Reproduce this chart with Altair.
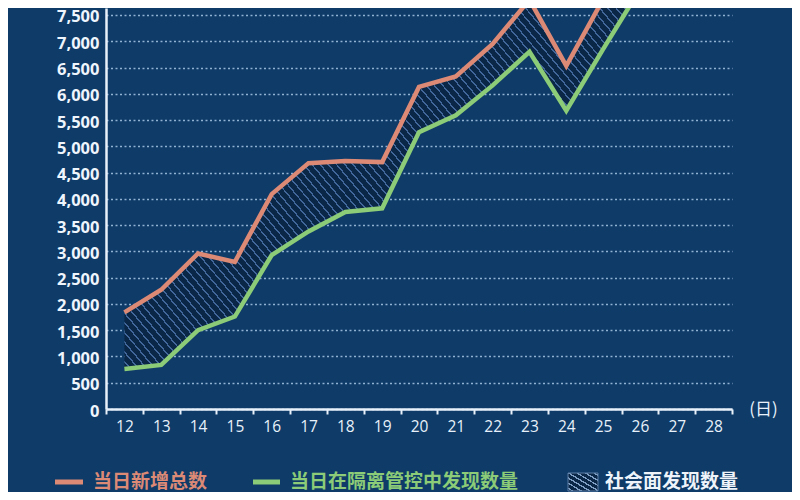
import altair as alt
import pandas as pd

# ---- data ----
days = list(range(12, 29))                      # x tick labels (日)
data_days = list(range(12, 27))                 # days with data
total_new = [1840, 2270, 2960, 2800, 4090, 4680, 4720, 4700, 6130, 6330,
             6950, 7790, 6530, 7800, 8900]      # 当日新增总数
in_quarantine = [760, 840, 1500, 1760, 2930, 3380, 3750, 3820, 5270, 5590,
                 6160, 6800, 5680, 6850, 7990]  # 当日在隔离管控中发现数量
series_names = ["当日新增总数", "当日在隔离管控中发现数量", "社会面发现数量"]
y_ticks = list(range(0, 7501, 500))
x_ticks = [d - 0.5 for d in days] + [days[-1] + 0.5]

df = pd.DataFrame({"day": data_days, "total": total_new, "iso": in_quarantine})

# ---- styles ----
BG = "#0e3b68"
ORANGE = "#dc8a76"
GREEN = "#8ccb77"
AXIS = "#e8f1fa"
W, H = 626, 401
BAND = W / (len(days))


def stripe_gradient(n, base, line, frac, x1=0, y1=1, x2=1, y2=0):
    """Linear gradient with n thin stripes; both ends are the base colour."""
    stops = []
    for i in range(n):
        a = i / n
        s = (i + 0.4) / n
        e = (i + 0.4 + frac) / n
        c = (i + 1) / n
        stops += [
            {"offset": a, "color": base},
            {"offset": s, "color": base},
            {"offset": s, "color": line},
            {"offset": e, "color": line},
            {"offset": e, "color": base},
            {"offset": c, "color": base},
        ]
    return {"gradient": "linear", "x1": x1, "y1": y1, "x2": x2, "y2": y2, "stops": stops}


hatch = stripe_gradient(112, "#0a2747", "#41679a", 0.22, -0.1, 0.92, 1.1, 0.08)
hatch_small = stripe_gradient(7, "#0a2747", "#7f9fc4", 0.3)

x_scale = alt.Scale(domain=[days[0] - 0.5, days[-1] + 0.5], nice=False, zero=False)
y_scale = alt.Scale(domain=[0, 7633], nice=False, zero=True)

x_axis = alt.Axis(
    values=x_ticks,
    labelExpr=f"datum.value < {days[-1]} ? format(datum.value + 0.5, 'd') : ''",
    labelOffset=BAND / 2,
    labelFlush=False,
    labelOverlap=False,
    labelFontSize=15.5,
    labelFont="Open Sans",
    labelColor=AXIS,
    labelPadding=5,
    grid=False,
    ticks=True,
    tickSize=5,
    tickWidth=2,
    tickColor=AXIS,
    domainColor=AXIS,
    domainWidth=2.5,
    title="(日)",
    titleX=657,
    titleY=0,
    titleAngle=0,
    titleAlign="center",
    titleBaseline="middle",
    titleFont="Noto Sans CJK SC",
    titleFontSize=17,
    titleFontWeight="normal",
    titleColor=AXIS,
)

y_axis = alt.Axis(
    values=y_ticks,
    format=",d",
    labelFont="Open Sans",
    labelFontSize=16.5,
    labelFontWeight="bold",
    labelColor="#eef5fc",
    labelPadding=7,
    labelOffset=2,
    labelFlush=False,
    labelOverlap=False,
    ticks=False,
    domainColor=AXIS,
    domainWidth=2.5,
    grid=True,
    gridColor="#a9c8e8",
    gridDash=[2, 2.5],
    gridWidth=1.5,
    gridOpacity=0.85,
    title=None,
)

X = alt.X("day:Q", scale=x_scale, axis=x_axis)

base = alt.Chart(df)

area = base.mark_area(clip=True, fill=hatch).encode(
    x=X,
    y=alt.Y("total:Q", scale=y_scale, axis=y_axis),
    y2="iso:Q",
)

green_line = base.mark_line(clip=True, color=GREEN, strokeWidth=4.5).encode(
    x=X, y=alt.Y("iso:Q", scale=y_scale, axis=y_axis)
)
orange_line = base.mark_line(clip=True, color=ORANGE, strokeWidth=4.5).encode(
    x=X, y=alt.Y("total:Q", scale=y_scale, axis=y_axis)
)

# ---- hand-placed legend ----
leg_df = pd.DataFrame({"name": series_names})
LEG_Y = 474


def leg_text(i, x, color):
    return alt.Chart(leg_df.iloc[[i]]).mark_text(
        align="left", baseline="middle", font="Noto Sans CJK SC",
        fontWeight="bold", fontSize=19, color=color,
    ).encode(x=alt.value(x), y=alt.value(LEG_Y), text="name:N")


leg_line1 = alt.Chart(leg_df.iloc[[0]]).mark_rule(color=ORANGE, strokeWidth=5).encode(
    x=alt.value(-51), x2=alt.value(-23), y=alt.value(LEG_Y))
leg_line2 = alt.Chart(leg_df.iloc[[1]]).mark_rule(color=GREEN, strokeWidth=5).encode(
    x=alt.value(147), x2=alt.value(174), y=alt.value(LEG_Y))
leg_rect = alt.Chart(leg_df.iloc[[2]]).mark_rect(
    fill=hatch_small, stroke="#5d7ea6", strokeWidth=1).encode(
    x=alt.value(462), x2=alt.value(492), y=alt.value(465), y2=alt.value(483))

chart = alt.layer(
    area, green_line, orange_line,
    leg_line1, leg_text(0, -13, ORANGE),
    leg_line2, leg_text(1, 184, GREEN),
    leg_rect, leg_text(2, 499, "#eef4fa"),
).properties(
    width=W,
    height=H,
    autosize=alt.AutoSizeParams(type="none"),
    padding={"left": 98, "top": 0, "right": 60, "bottom": 83},
    background=BG,
).configure_view(stroke=None)

chart.save("out.html", embed_options={"renderer": "svg", "actions": False})
